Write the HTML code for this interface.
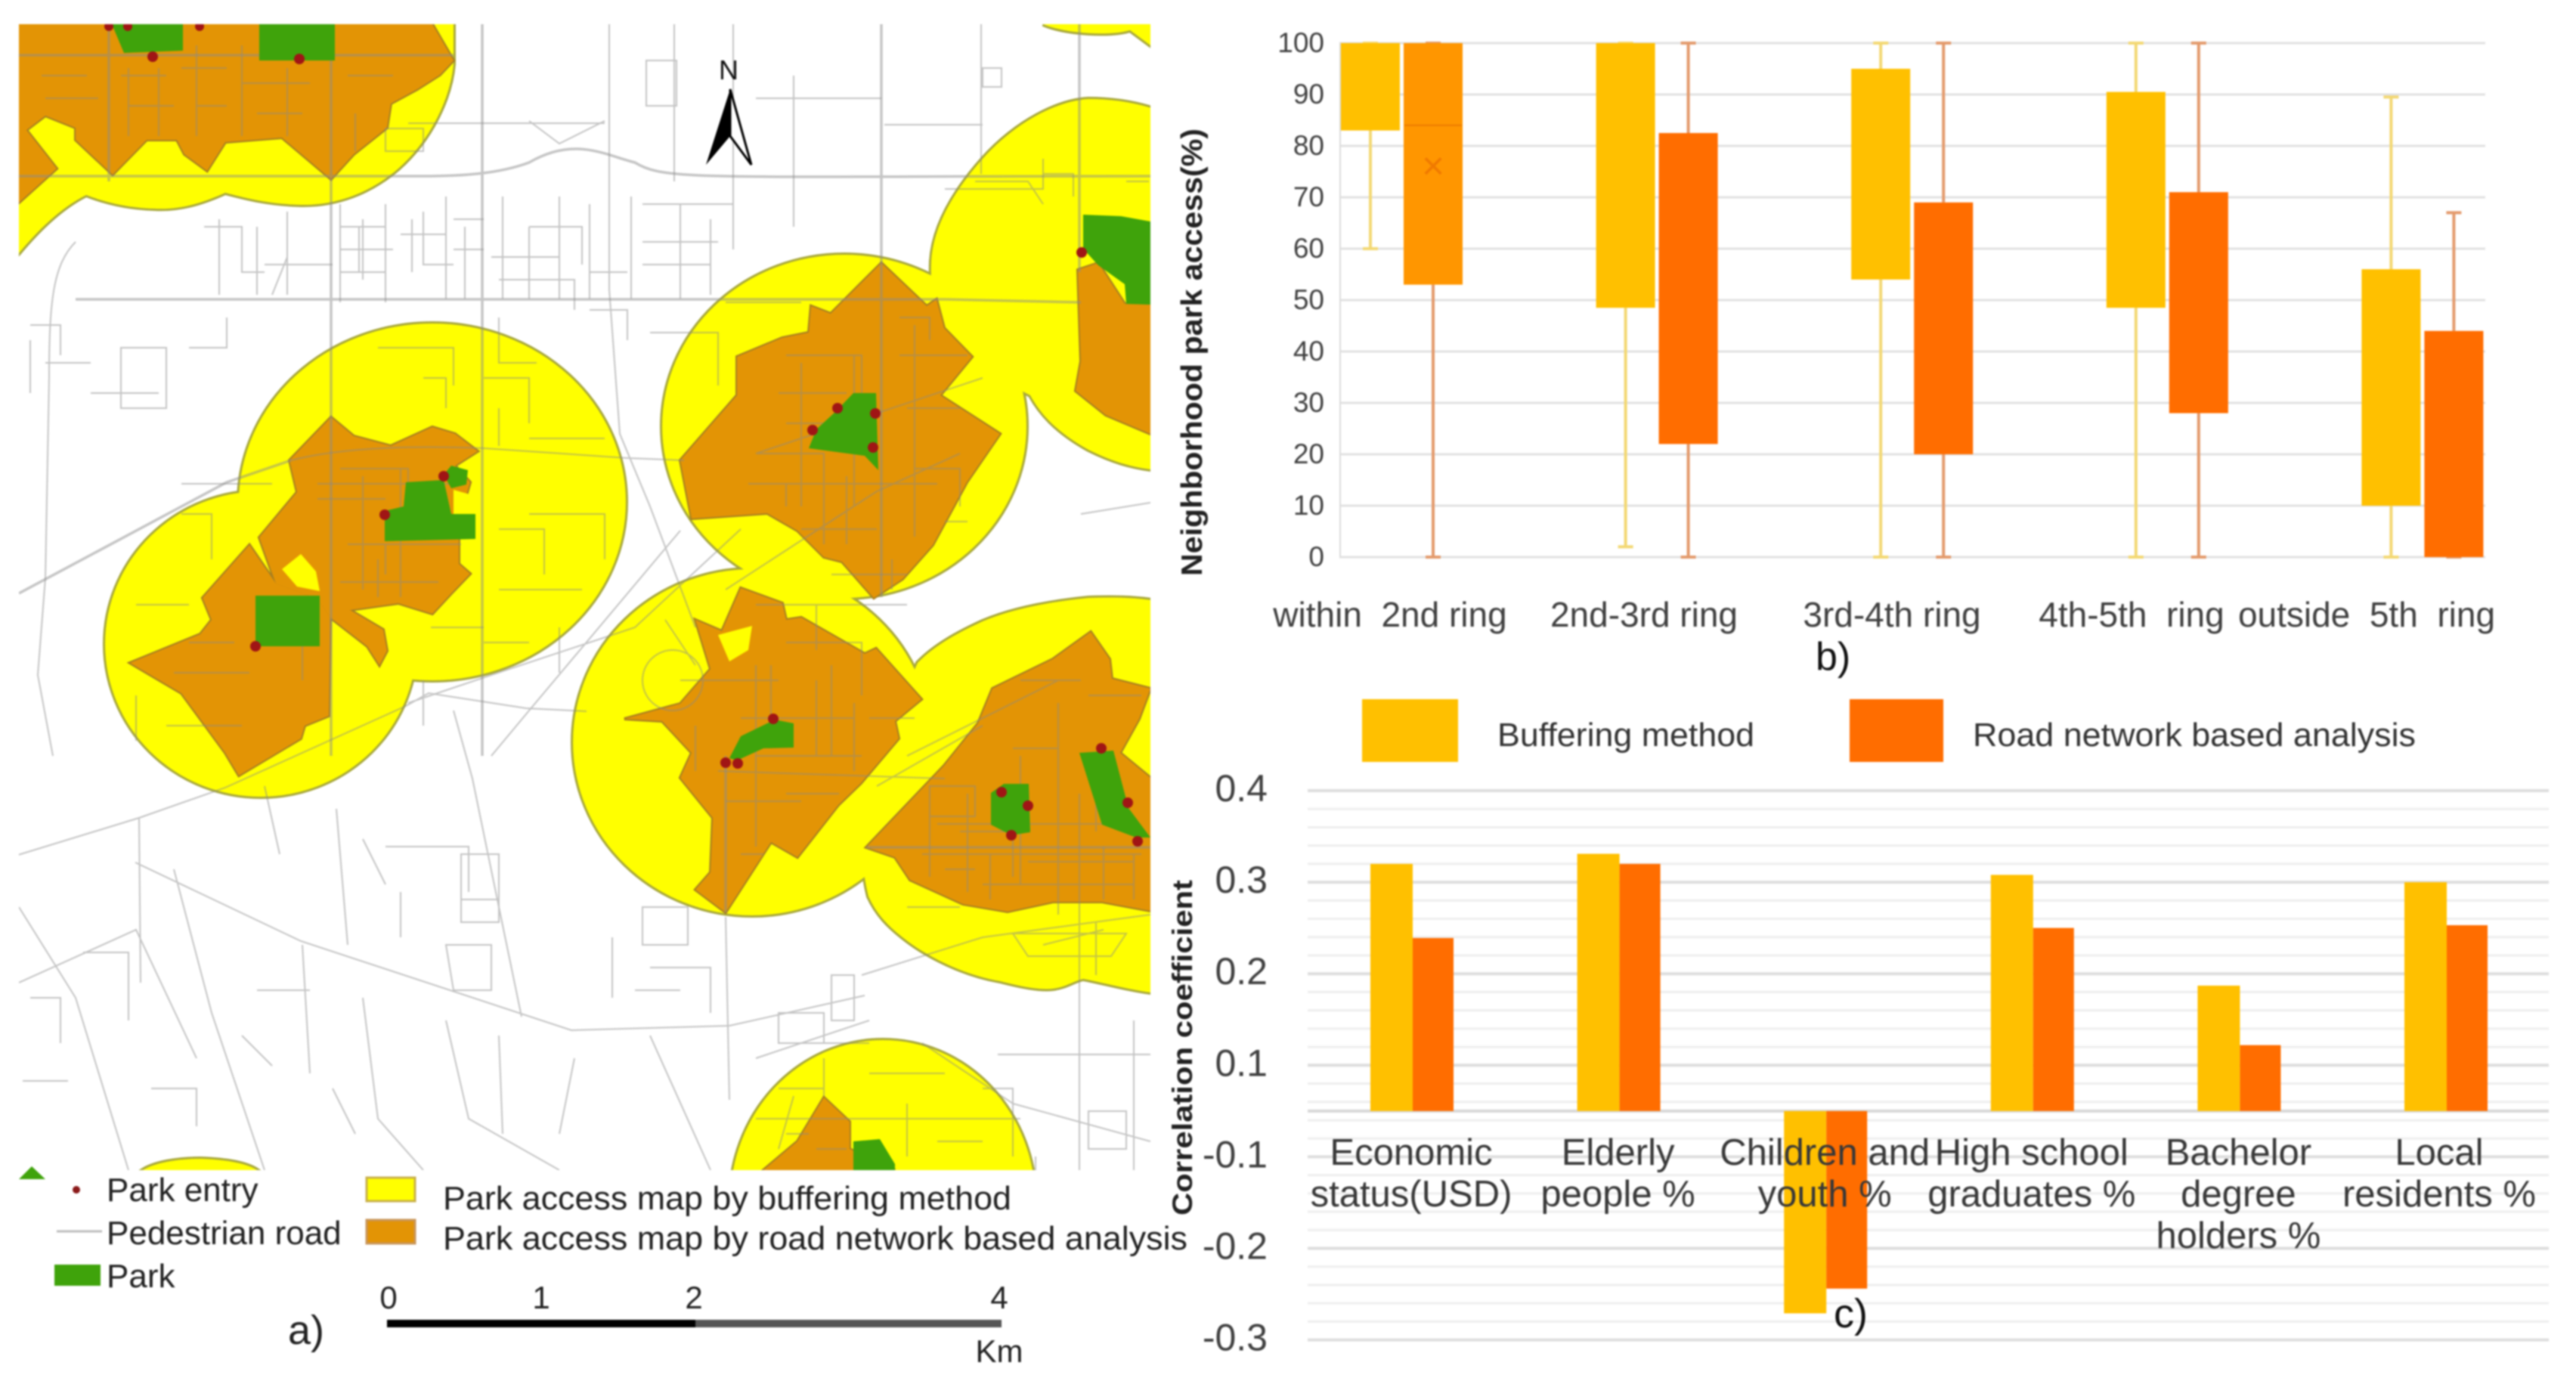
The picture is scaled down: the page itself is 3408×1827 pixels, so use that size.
<!DOCTYPE html>
<html lang="en">
<head>
<meta charset="utf-8">
<title>Park access maps and charts</title>
<style>
html,body{margin:0;padding:0;background:#fff;width:3408px;height:1827px;overflow:hidden}
svg{position:absolute;left:0;top:0;filter:blur(1.1px)}
text{font-family:"Liberation Sans",sans-serif;white-space:pre}
</style>
</head>
<body>
<svg id="figure" xmlns="http://www.w3.org/2000/svg" width="3408" height="1827" viewBox="0 0 3408 1827">
<defs>
<clipPath id="mapClip"><rect x="25" y="32" width="1497" height="1516"/></clipPath>
<g id="bufferShapes">
  <path d="M25 32H600V85C596 130 570 185 527 223C490 255 445 272 398 271C355 270 325 262 298 255C265 270 235 278 204 276C170 275 140 268 114 258C80 275 50 305 25 335Z"/>
  <ellipse cx="572" cy="664" rx="256" ry="236"/>
  <ellipse cx="345" cy="852" rx="206" ry="202"/>
  <path d="M1530 145C1500 135 1470 131 1440 131C1400 133 1345 160 1300 210C1260 255 1235 300 1232 345C1230 390 1240 430 1260 470L1363 523C1375 545 1395 570 1440 595C1470 610 1495 618 1530 622Z"/>
  <ellipse cx="1117" cy="564" rx="241" ry="227"/>
  <ellipse cx="995" cy="982" rx="237" ry="229"/>
  <path d="M1530 795C1500 790 1470 790 1440 791C1390 796 1340 805 1300 822C1265 838 1235 855 1214 877C1190 930 1155 1010 1145 1070C1138 1110 1140 1150 1149 1186C1160 1210 1175 1225 1194 1240C1225 1265 1275 1290 1323 1298C1350 1305 1375 1310 1393 1308C1410 1306 1420 1298 1433 1295C1460 1300 1495 1310 1530 1314Z"/>
  <ellipse cx="1168" cy="1590" rx="202" ry="214"/>
  <path d="M189 1548C205 1538 235 1533 265 1533C295 1534 325 1538 340 1548Z"/>
  <path d="M1380 32C1410 45 1470 48 1495 40L1522 60V32Z"/>
</g>
<g id="roadShapes">
  <path d="M25 32H572L600 80L582 99L552 118L517 137L512 169L468 204L438 237L373 182L298 188L274 226L244 204L234 185L194 185L149 231L100 185L100 169L60 153L35 172L75 223L25 268Z"/>
  <path d="M438 552L468 577L517 590L572 565L602 574L632 597L602 616L622 638L607 689L607 746L622 759L597 785L572 812L527 798L463 807L507 833L512 861L502 880L486 855L437 817L420 792L365 772L343 711L393 651L383 609Z"/>
  <path d="M172 877L265 839L280 820L268 791L330 721L365 772L420 792L437 817L435 947L403 960L398 977L316 1026L298 996L240 917Z"/>
  <path d="M1166 348L1226 405L1239 396L1249 434L1286 472L1244 523L1323 574L1279 638L1234 721L1194 766L1156 791L1114 743L1090 737L1055 702L1015 679L915 686L900 609L975 523L975 472L1035 447L1070 440L1073 405L1099 415Z"/>
  <path d="M1426 357L1453 348L1488 402L1522 403V574L1463 549L1423 517L1430 478Z"/>
  <path d="M980 778L1035 798L1040 820L1060 817L1144 865L1159 858L1219 925L1184 954L1189 977L1139 1036L1109 1065L1055 1134L1020 1114L960 1207L920 1177L940 1154L943 1082L900 1029L915 996L876 954L826 951L900 931L940 885L920 820L955 835Z"/>
  <path d="M1443 836L1468 872L1471 898L1522 911L1507 951L1482 996L1522 1029V1205L1458 1193L1393 1193L1333 1206L1274 1196L1204 1164L1184 1134L1146 1121L1249 1013L1294 957L1313 911L1393 872Z"/>
  <path d="M1010 1548L1055 1510L1090 1452L1124 1484L1124 1520L1184 1548Z"/>
</g>
</defs>
<rect x="0" y="0" width="3408" height="1827" fill="#fff"/>

<g id="map" clip-path="url(#mapClip)">
  <use href="#bufferShapes" fill="none" stroke="#a8a83c" stroke-width="6"/>
  <use href="#bufferShapes" fill="#ffff00" stroke="none"/>
  <use href="#roadShapes" fill="none" stroke="#a67f22" stroke-width="4"/>
  <use href="#roadShapes" fill="#e39405" stroke="none"/>
  <g fill="#ffff00" stroke="none">
    <path d="M373 753L398 733L418 756L423 782L393 776Z"/>
    <path d="M600 648L625 655L625 680L600 680Z"/>
    <path d="M950 840L995 828L990 860L965 875Z"/>
  </g>
  <path fill="none" stroke="#8c8c8c" stroke-opacity=".5" stroke-width="3.5" d="
  M144 240V32M438 1000V32M638 1000V32M1166 790V32M1428 32V360M960 1000V1207
  M25 73H600M25 233H560C610 233 660 230 700 215C760 180 800 205 840 215C880 240 930 233 1530 233M100 396H1250L1430 400
  M25 785L300 638L385 609M1146 1121H1522"/>
  <path fill="none" stroke="#8a8a8a" stroke-opacity=".5" stroke-width="2" d="
  M806 32V383L820 574L860 670L920 830M970 32V330M1298 32V230M892 32V240M1050 100V300
  M540 163H800M1170 165H1300M1000 130H1166
  M100 320C70 350 65 400 65 500L60 765L50 893L70 1000M385 609C460 590 560 590 640 593L830 606L905 609M980 700L840 830L650 893L540 930
  M24 1131L184 1082L298 1042L537 934L567 917L696 937L776 941M650 1000L700 940L900 702M179 1141L398 1245L756 1363L965 1357L1144 1317M960 1213L965 1455M184 1082L186 1300M350 1040L370 1130M445 1070L460 1250M600 940L625 1030L660 1200L690 1345M1428 1050V1548
  M25 1200L100 1320L170 1548M230 1150L280 1340L350 1548M400 1250L410 1420M480 1320L500 1480L560 1548M590 1350L620 1480L740 1548M660 1370L665 1500M25 1300L180 1230L260 1400M760 1400L740 1500M860 1370L940 1548M1220 1380L1340 1460L1522 1510M1000 1400L1150 1350M1320 1395H1522M1500 1350V1548
  M1000 600L1300 500M960 780L1160 650L1270 600M1430 680L1522 665M1200 1000L1400 900M950 1020L1250 1030M1160 1040L1300 960M1140 1290L1300 1240L1522 1210
  M450 300h60v60h-60zM480 290v80M560 280v70h40M600 330h40M700 300h70v50M780 300v60h50M720 370h40v40M850 270h120v50M270 300h50v60h30M300 420v40h-50M60 480h60M40 430h40v40M160 460h60v80h-60zM40 450v70M120 520h90M660 420v60h50M780 410h50v40M860 440h90v70M960 400h100M1250 250h130v-40M1300 90h25v25h-25zM855 80h40v60h-40zM700 160l40 30l60-30M510 170h50v30h-50zM1490 240h30M1290 240h70l20 30M1380 230h40v30
  M500 460h100v50M560 500h30v40M640 500h60v60M660 540v50M700 580h100M450 620h90v50M240 640h120M240 680h40v60M470 720h40v40M520 690h60M660 700h60v60M700 680h100v60M660 780h110M740 830v60M570 830h70M560 900v60M640 850h60M250 850h60M180 800h70M220 960h100M230 890h100M180 920v60M400 900v-50
  M1040 470h100v50M1040 560h80M1000 600h90v70M1190 470h90M1190 420h40v30M1200 540h70M1210 620h60v50M1250 690h30M1060 700h100M1090 650v70M1040 640v30M1120 630v90M1000 800h200M1040 850h100v70M1080 800v60M880 820l40 60M850 900a40 40 0 1 0 80 0a40 40 0 1 0-80 0M980 950h150M1000 1000h110M1040 1050h70M1150 950h60M1100 880v120M1000 880v170
  M1230 1040h60v40h-60zM1270 1100h70v60M1360 1140h140M1340 990h60M1350 1050v60M1440 920h70M1400 930v60M1250 1150h40M1200 1200h70M1340 1235h150l-20 30h-110zM1450 1220v70M1380 1250l80-20M1400 1140v70M1450 1010v90M1310 1130v60
  M1030 1340h60v40h-60zM1100 1290h30v60h-30zM870 1280h70v60M840 1310h60M810 1240v80M850 1200h60v50h-60zM1030 1440h60M1060 1380h90M1090 1400v50M1150 1420h100M1200 1460v70M1050 1450l-20 70M1440 1470h50v50h-50zM1300 1440h40v90M1000 1480h350
  M340 1310h70M510 1120h110v60M530 1180v60M610 1130h50v90h-50zM610 1190h50M590 1250h60v60h-50zM320 1370l40 40M200 1440h60v50M440 1440l30 60M110 1260h60v90M40 1320h40v60M480 1110l30 60M30 1430h60M860 1280h50
  M450 270v130M475 300v60M510 270v130M545 290v70M590 260v135M615 300v95M665 260v135M700 300v95M740 260v135M450 330h70M530 310h60M600 290h40M650 340h90M660 370h80M780 270v125M835 260v135M900 270v125M940 290v100M850 320h100M850 350h90M290 290v100M340 300v90M350 350h90M360 390l20-50M380 280v110
  M55 100h60M60 130h70M160 100h60M170 140h60M240 90h60M260 140h40M320 110h90M340 150h60M460 100h60M470 150v50M170 90v90M210 90v90M260 60v120M320 60v120M380 90v90
  M480 630v150M530 620v170M560 640v60M420 640h180M420 660h90M460 720h150M450 770h130M500 740v50M590 630h20
  M1060 480v190M1130 470v200M1210 430v280M1030 520h90M990 640h250M1100 760h100M1180 740v40
  M900 900h130M920 960v60M1020 880v80M1080 900v100M1130 930v90M960 1060h100M1000 1050v70M980 1130h30M1060 1000h80
  M1230 1060v100M1280 1050v130M1350 1000v170M1400 960v220M1460 1120v70M1500 1130v60M1240 1090h240M1220 1130h290M1300 1170h200M1350 900h80
  M1370 1530v18M1080 1520h40M1040 1500h30M1230 1480h70M1240 1510h60"/>
  <g fill="#3fa30b" stroke="none">
    <path d="M148 32L164 70L242 67V32Z"/>
    <path d="M343 32H443V80H343Z"/>
    <path d="M537 638L587 635L597 680L629 680L629 713L509 716L509 676L534 670Z"/>
    <path d="M587 628L597 616L619 622L617 641L597 646Z"/>
    <path d="M338 788H423V855H338Z"/>
    <path d="M1129 520L1159 520L1162 622L1144 603L1070 593L1080 568L1105 545Z"/>
    <path d="M1433 284L1483 286L1522 293V403L1490 402L1488 376L1453 351L1433 329Z"/>
    <path d="M1025 952L1050 957L1050 989L1010 990L975 1006L965 1003L980 974Z"/>
    <path d="M1311 1049L1328 1037L1361 1037L1363 1101L1338 1105L1311 1091Z"/>
    <path d="M1428 996L1473 993L1493 1069L1522 1108L1503 1108L1458 1091Z"/>
    <path d="M1129 1510L1164 1507L1184 1540V1548H1129Z"/>
  </g>
  <g fill="#a01515">
    <circle cx="202" cy="75" r="7"/>
    <circle cx="396" cy="78" r="7"/>
    <circle cx="144" cy="35" r="6"/>
    <circle cx="169" cy="35" r="6"/>
    <circle cx="264" cy="35" r="6"/>
    <circle cx="587" cy="630" r="7"/>
    <circle cx="509" cy="681" r="7"/>
    <circle cx="338" cy="855" r="7"/>
    <circle cx="1108" cy="540" r="7"/>
    <circle cx="1158" cy="547" r="7"/>
    <circle cx="1075" cy="569" r="7"/>
    <circle cx="1155" cy="592" r="7"/>
    <circle cx="1431" cy="334" r="7"/>
    <circle cx="1023" cy="951" r="7"/>
    <circle cx="960" cy="1009" r="7"/>
    <circle cx="976" cy="1010" r="7"/>
    <circle cx="1457" cy="990" r="7"/>
    <circle cx="1325" cy="1048" r="7"/>
    <circle cx="1360" cy="1066" r="7"/>
    <circle cx="1338" cy="1105" r="7"/>
    <circle cx="1492" cy="1062" r="7"/>
    <circle cx="1505" cy="1113" r="7"/>
  </g>
  <g>
    <text x="964" y="105" font-size="36" text-anchor="middle" fill="#111">N</text>
    <path d="M966 118L934 218L966 180Z" fill="#000"/>
    <path d="M966 118L994 218L966 180Z" fill="#fff" stroke="#000" stroke-width="3"/>
  </g>
</g>

<g fill="#222">
  <path d="M42 1543L60 1560H25Z" fill="#3fa30b"/>
  <circle cx="101" cy="1574" r="5" fill="#8b1a1a"/>
  <text x="141" y="1589" font-size="44">Park entry</text>
  <line x1="75" x2="135" y1="1629" y2="1629" stroke="#bdbdbd" stroke-width="3"/>
  <text x="141" y="1646" font-size="44">Pedestrian road</text>
  <rect x="72" y="1673" width="61" height="28" fill="#3fa30b"/>
  <text x="141" y="1703" font-size="44">Park</text>
  <rect x="485" y="1558" width="64" height="31" fill="#ffff00" stroke="#c9b04a" stroke-width="3"/>
  <rect x="485" y="1614" width="64" height="31" fill="#e39405" stroke="#c9965a" stroke-width="3"/>
  <text x="586" y="1600" font-size="44" textLength="752" lengthAdjust="spacingAndGlyphs">Park access map by buffering method</text>
  <text x="586" y="1653" font-size="44" textLength="985" lengthAdjust="spacingAndGlyphs">Park access map by road network based analysis</text>
  <g>
    <text x="514" y="1731" font-size="42" text-anchor="middle">0</text>
    <text x="716" y="1731" font-size="42" text-anchor="middle">1</text>
    <text x="918" y="1731" font-size="42" text-anchor="middle">2</text>
    <text x="1322" y="1731" font-size="42" text-anchor="middle">4</text>
    <rect x="512" y="1746" width="408" height="10" fill="#000"/>
    <rect x="920" y="1746" width="405" height="10" fill="#555"/>
    <text x="1322" y="1802" font-size="42" text-anchor="middle">Km</text>
  </g>
  <text x="381" y="1778" font-size="54">a)</text>
</g>

<g id="chartB"></g>
<g>
  <text transform="translate(1590 466) rotate(-90)" font-size="39" font-weight="bold" fill="#222" text-anchor="middle" textLength="592" lengthAdjust="spacingAndGlyphs">Neighborhood park access(%)</text>
  <text x="2402" y="886" font-size="52" fill="#111">b)</text>
  <rect x="1802" y="925" width="127" height="83" fill="#ffc000"/>
  <text x="1981" y="987" font-size="44" fill="#333" textLength="340" lengthAdjust="spacingAndGlyphs">Buffering method</text>
  <rect x="2447" y="925" width="124" height="83" fill="#ff6d00"/>
  <text x="2610" y="987" font-size="44" fill="#333" textLength="586" lengthAdjust="spacingAndGlyphs">Road network based analysis</text>
</g>

<g id="chartC"></g>
<g>
  <text transform="translate(1577 1386) rotate(-90)" font-size="37" font-weight="bold" fill="#222" text-anchor="middle" textLength="444" lengthAdjust="spacingAndGlyphs">Correlation coefficient</text>
  <text x="2426" y="1756" font-size="54" fill="#111">c)</text>
</g>
</svg>

<script>
// Panel b data
const ringCategories = ['within  2nd ring', '2nd-3rd ring', '3rd-4th ring', '4th-5th  ring', 'outside  5th  ring'];
const percentTicks = [0, 10, 20, 30, 40, 50, 60, 70, 80, 90, 100];
const bufferMax = [100, 100, 100, 100, 89.5];
const bufferQ3 = [100, 100, 95, 90.5, 56];
const bufferQ1 = [83, 48.5, 54, 48.5, 10];
const bufferMin = [60, 2, 0, 0, 0];
const roadMax = [100, 100, 100, 100, 67];
const roadQ3 = [100, 82.5, 69, 71, 44];
const roadQ1 = [53, 22, 20, 28, 0];
const roadMin = [0, 0, 0, 0, 0];
const firstRoadMedian = [84];
const firstRoadMean = [76];

// Panel c data
const socialCategories = [['Economic', 'status(USD)'], ['Elderly', 'people %'], ['Children and', 'youth %'], ['High school', 'graduates %'], ['Bachelor', 'degree', 'holders %'], ['Local', 'residents %']];
const correlationTicks = [0.4, 0.3, 0.2, 0.1, -0.1, -0.2, -0.3];
const bufferCorrelation = [0.32, 0.331, -0.271, 0.308, 0.187, 0.30];
const roadCorrelation = [0.239, 0.32, -0.244, 0.25, 0.122, 0.253];

const NS = 'http://www.w3.org/2000/svg';
const BUFFER_COLOR = '#ffc000';
const ROAD_COLOR = '#ff6d00';

function make(parent, tag, props, content) {
  const el = document.createElementNS(NS, tag);
  for (const k in props) el.setAttribute(k, props[k]);
  if (content !== undefined) el.textContent = content;
  parent.appendChild(el);
  return el;
}

// Panel b axis functions
function yB(v) { return 737 - v * 6.8; }
function xB(i) { return 1854 + i * 337.6; }

function drawBoxPlot() {
  const root = document.getElementById('chartB');
  const labelCentres = [1839, 2175, 2503, 2820, 3131];
  percentTicks.forEach(function (t) {
    const grid = make(root, 'line', { x1: 1772, x2: 3288, y1: yB(t), y2: yB(t), stroke: '#e2e2e2', 'stroke-width': 3 });
    
    
    const tick = make(root, 'text', { x: 1752, y: yB(t) + 12, 'font-size': 37, 'text-anchor': 'end', fill: '#404040' }, String(t));
    
    
  });
  const axis = make(root, 'line', { x1: 1773, x2: 1773, y1: yB(100), y2: yB(0), stroke: '#dcdcdc', 'stroke-width': 2 });
  
  

  function series(i, cx, hi, q3, q1, lo, fill, whisker, name) {
    const w1 = make(root, 'line', { x1: cx, x2: cx, y1: yB(hi), y2: yB(q3), stroke: whisker, 'stroke-width': 4 });
    
    
    const w2 = make(root, 'line', { x1: cx, x2: cx, y1: yB(q1), y2: yB(lo), stroke: whisker, 'stroke-width': 4 });
    
    
    const c1 = make(root, 'line', { x1: cx - 10, x2: cx + 10, y1: yB(hi), y2: yB(hi), stroke: whisker, 'stroke-width': 4 });
    
    
    const c2 = make(root, 'line', { x1: cx - 10, x2: cx + 10, y1: yB(lo), y2: yB(lo), stroke: whisker, 'stroke-width': 4 });
    
    
    const box = make(root, 'rect', { x: cx - 39, y: yB(q3), width: 78, height: yB(q1) - yB(q3), fill: fill });
    
    
  }

  ringCategories.forEach(function (c, i) {
    series(i, xB(i) - 41, bufferMax[i], bufferQ3[i], bufferQ1[i], bufferMin[i], BUFFER_COLOR, '#f3d873', 'buffer-' + i);
    series(i, xB(i) + 42, roadMax[i], roadQ3[i], roadQ1[i], roadMin[i], i === 0 ? '#ff9600' : ROAD_COLOR, '#e39a6c', 'road-' + i);
    const label = make(root, 'text', { x: labelCentres[i], y: 829, 'font-size': 46, 'text-anchor': 'middle', fill: '#404040' }, c);
    
    
  });

  const cx0 = xB(0) + 42;
  const med = make(root, 'line', { x1: cx0 - 38, x2: cx0 + 38, y1: yB(firstRoadMedian[0]), y2: yB(firstRoadMedian[0]), stroke: '#ec7d00', 'stroke-width': 2 });
  
  
  const mean = make(root, 'text', { x: cx0, y: yB(firstRoadMean[0]) + 17, 'font-size': 52, 'text-anchor': 'middle', fill: '#f07a00' }, '\u00d7');
  
  
}

// Panel c axis function: the printed scale has no zero tick, so negative values shift up one 0.1 step.
function yC(v) {
  const p = v < 0 ? v + 0.1 : v;
  return 1046 + (0.4 - p) * 1211;
}
function yCBase() { return 1046 + 0.35 * 1211; }
function xC(i) { return 1869 + i * 273.6; }

function drawBars() {
  const root = document.getElementById('chartC');
  for (let k = 0; k <= 30; k++) {
    const y = 1046 + k * 24.22;
    const major = k % 5 === 0;
    const grid = make(root, 'line', { x1: 1730, x2: 3372, y1: y, y2: y, stroke: major ? '#dedede' : '#eeeeee', 'stroke-width': major ? 4 : 3 });
    
    
  }
  const axis = make(root, 'line', { x1: 1730, x2: 3372, y1: yCBase(), y2: yCBase(), stroke: '#d8d8d8', 'stroke-width': 4 });
  
  
  correlationTicks.forEach(function (t) {
    const tick = make(root, 'text', { x: 1677, y: yC(t) + 14, 'font-size': 50, 'text-anchor': 'end', fill: '#404040' }, t.toFixed(1));
    
    
  });
  socialCategories.forEach(function (lines, i) {
    const b0 = yCBase();
    const by = yC(bufferCorrelation[i]);
    const ry = yC(roadCorrelation[i]);
    const bar1 = make(root, 'rect', { x: xC(i) - 56, y: Math.min(b0, by), width: 56, height: Math.abs(by - b0), fill: BUFFER_COLOR });
    
    
    const bar2 = make(root, 'rect', { x: xC(i), y: Math.min(b0, ry), width: 54, height: Math.abs(ry - b0), fill: ROAD_COLOR });
    
    
  });
  socialCategories.forEach(function (lines, i) {
    lines.forEach(function (line, j) {
      const label = make(root, 'text', { x: xC(i) - 2 - (i === 5 ? 8 : 0), y: 1541 + j * 55, 'font-size': 49, 'text-anchor': 'middle', fill: '#383838' }, line);
      
      
    });
  });
}

drawBoxPlot();
drawBars();
</script>
</body>
</html>
